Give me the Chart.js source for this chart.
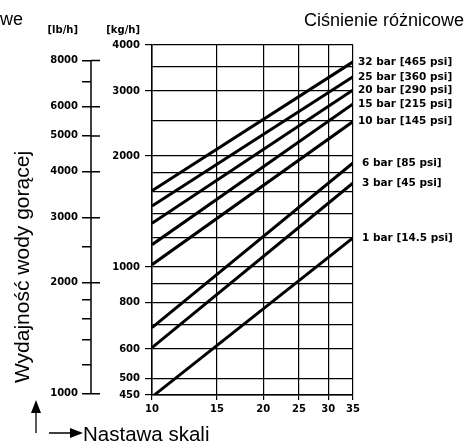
<!DOCTYPE html>
<html>
<head>
<meta charset="utf-8">
<script src="https://cdn.jsdelivr.net/npm/chart.js@4.4.1/dist/chart.umd.min.js"></script>
<style>
  html, body { margin: 0; padding: 0; background: #fff; }
</style>
</head>
<body>
<canvas id="chart" width="465" height="443"></canvas>
<script>
// ---- data ----
const pressureLabels = [
  "32 bar [465 psi]", "25 bar [360 psi]", "20 bar [290 psi]", "15 bar [215 psi]",
  "10 bar [145 psi]", "6 bar [85 psi]", "3 bar [45 psi]", "1 bar [14.5 psi]"
];
const scaleSetting = [10, 35];                                   // x range of every line
const flowAtMin = [1610, 1465, 1315, 1150, 1015, 685, 605, 445];  // kg/h at setting 10
const flowAtMax = [3600, 3280, 3020, 2770, 2480, 1915, 1690, 1200]; // kg/h at setting 35

const xTicks = [10, 15, 20, 25, 30, 35];
const kgTicks = [450, 500, 600, 700, 800, 900, 1000, 1200, 1400, 1600, 1800, 2000, 2500, 3000, 3500, 4000];
const kgLabeled = [450, 500, 600, 800, 1000, 2000, 3000, 4000];
const lbTicks = [1000, 1200, 1400, 1600, 1800, 2000, 2500, 3000, 4000, 5000, 6000, 7000, 8000];
const lbLabeled = [1000, 2000, 3000, 4000, 5000, 6000, 8000];
const KG_TO_LB = 2.20462;

const tickFont = { family: "DejaVu Sans", weight: "bold", size: 10 };

/* ================= extra drawing ================= */

const decorations = {
  id: "decorations",
  afterDraw(chart) {
    const c = chart.ctx;
    const lb = chart.scales.yLb;
    c.save();
    c.strokeStyle = "#000";
    c.fillStyle = "#000";

    // lb/h axis line only between 1000 and 8000, major ticks crossing it
    c.lineWidth = 1.5;
    c.beginPath();
    c.moveTo(lb.right, lb.getPixelForValue(8000));
    c.lineTo(lb.right, lb.getPixelForValue(1000));
    lbLabeled.forEach(v => {
      const y = lb.getPixelForValue(v);
      c.moveTo(lb.right, y);
      c.lineTo(lb.right + 9, y);
    });
    c.stroke();

    // unit headers
    c.font = "bold 10px 'DejaVu Sans'";
    c.textAlign = "right";
    c.textBaseline = "middle";
    c.fillText("[lb/h]", 78, 30);
    c.fillText("[kg/h]", 140, 30);

    // pressure labels at line ends
    c.textAlign = "left";
    c.font = "bold 10.5px 'DejaVu Sans'";
    chart.data.datasets.forEach((ds, i) => {
      const pts = chart.getDatasetMeta(i).data;
      const end = pts[pts.length - 1];
      c.fillText(pressureLabels[i], end.x + (i > 4 ? 9 : 5), end.y);
    });

    // titles
    c.font = "18px Arial";
    c.textAlign = "right";
    c.textBaseline = "alphabetic";
    c.fillText("Ciśnienie różnicowe", 464, 26);
    c.fillText("różnicowe", 23, 25);

    c.font = "20.5px Arial";
    c.textAlign = "left";
    c.fillText("Nastawa skali", 83, 441);

    c.save();
    c.translate(29, 267);
    c.rotate(-Math.PI / 2);
    c.textAlign = "center";
    c.font = "21px Arial";
    c.fillText("Wydajność wody gorącej", 0, 0);
    c.restore();

    // arrows
    c.lineWidth = 1.3;
    c.beginPath();
    c.moveTo(36, 433); c.lineTo(36, 410);
    c.moveTo(49, 433); c.lineTo(72, 433);
    c.stroke();
    c.beginPath();
    c.moveTo(36, 400); c.lineTo(31, 413); c.lineTo(41, 413); c.closePath();
    c.moveTo(83, 433); c.lineTo(70, 428); c.lineTo(70, 438); c.closePath();
    c.fill();

    c.restore();
  }
};

/* ================= Chart ================= */

const datasets = pressureLabels.map((name, i) => ({
  label: name,
  data: [
    { x: scaleSetting[0], y: flowAtMin[i] },
    { x: scaleSetting[1], y: flowAtMax[i] }
  ],
  borderColor: "#000",
  borderWidth: 3,
  pointRadius: 0,
  fill: false,
  tension: 0
}));

new Chart(document.getElementById("chart"), {
  type: "line",
  data: { datasets },
  options: {
    responsive: false,
    animation: false,
    layout: { padding: { top: 45, right: 112, bottom: 26, left: 0 } },
    plugins: { legend: { display: false }, tooltip: { enabled: false } },
    scales: {
      x: {
        type: "logarithmic",
        min: 10,
        max: 35,
        afterBuildTicks: s => { s.ticks = xTicks.map(v => ({ value: v })); },
        afterFit: s => { s.height = 22; },
        grid: { color: "#000", lineWidth: 1.2, tickLength: 5, tickColor: "#000" },
        border: { color: "#000", width: 1.5 },
        ticks: {
          color: "#000", font: tickFont, padding: 3, autoSkip: false, maxRotation: 0,
          callback: v => String(v)
        }
      },
      y: {
        type: "logarithmic",
        position: "left",
        weight: 0,
        min: 450,
        max: 4000,
        afterBuildTicks: s => { s.ticks = kgTicks.map(v => ({ value: v })); },
        afterFit: s => { s.width = 61; },
        grid: {
          color: "#000", lineWidth: 1.2, tickLength: 7,
          tickColor: ctx => kgLabeled.includes(ctx.tick.value) ? "#000" : "rgba(0,0,0,0)"
        },
        border: { color: "#000", width: 1.5 },
        ticks: {
          color: "#000", font: tickFont, padding: 5, autoSkip: false,
          callback: v => kgLabeled.includes(v) ? String(v) : ""
        }
      },
      yLb: {
        type: "logarithmic",
        position: "left",
        weight: 1,
        min: 450 * KG_TO_LB,
        max: 4000 * KG_TO_LB,
        afterBuildTicks: s => { s.ticks = lbTicks.map(v => ({ value: v })); },
        afterFit: s => { s.width = 91; },
        grid: { drawOnChartArea: false, color: "#000", lineWidth: 1.5, tickLength: 9, tickColor: "#000" },
        border: { display: false },
        ticks: {
          color: "#000", font: tickFont, padding: 4, autoSkip: false,
          callback: v => lbLabeled.includes(v) ? String(v) : ""
        }
      }
    }
  },
  plugins: [decorations]
});
</script>
</body>
</html>
